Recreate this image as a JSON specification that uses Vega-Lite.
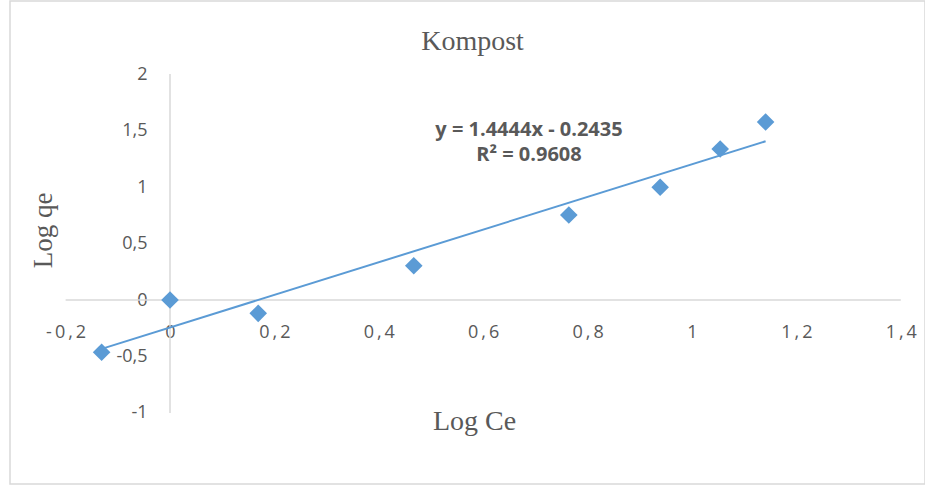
{
  "$schema": "https://vega.github.io/schema/vega-lite/v6.json",
  "autosize": {"type": "none"},
  "width": 915,
  "height": 483,
  "padding": {"left": 10, "top": 1, "right": 0, "bottom": 3},
  "background": "white",
  "config": {
    "view": {"stroke": "#D9D9D9", "strokeWidth": 1.5},
    "font": "Open Sans"
  },
  "title": {
    "text": "Kompost",
    "font": "Liberation Serif",
    "fontSize": 28,
    "fontWeight": "normal",
    "color": "#595959",
    "anchor": "middle",
    "baseline": "alphabetic",
    "offset": -77,
    "dx": 5
  },
  "datasets": {
    "points": [
      {"x": -0.131, "y": -0.463},
      {"x": 0.0, "y": 0.0},
      {"x": 0.169, "y": -0.118},
      {"x": 0.467, "y": 0.303},
      {"x": 0.764, "y": 0.752},
      {"x": 0.939, "y": 0.998},
      {"x": 1.054, "y": 1.336},
      {"x": 1.141, "y": 1.575}
    ],
    "trend": [
      {"x": -0.131, "y": -0.4327},
      {"x": 1.141, "y": 1.4046}
    ],
    "axislines": [
      {"x": -0.2, "y": 0, "x2": 1.4, "y2": 0},
      {"x": 0, "y": -1, "x2": 0, "y2": 2}
    ],
    "equation": [
      {"x": 0.6877, "y": 1.504, "line1": "y = 1.4444x - 0.2435", "line2": "R² = 0.9608"}
    ]
  },
  "encoding": {
    "x": {
      "field": "x",
      "type": "quantitative",
      "scale": {"domain": [-0.30651, 1.44636], "nice": false, "zero": false},
      "axis": {
        "title": "Log Ce",
        "values": [-0.2, 0, 0.2, 0.4, 0.6, 0.8, 1, 1.2, 1.4],
        "offset": -184,
        "domain": false,
        "ticks": false,
        "tickSize": 0,
        "grid": false,
        "labelPadding": 32,
        "labelBaseline": "middle",
        "labelFont": "Open Sans",
        "labelFontSize": 18,
        "labelColor": "#595959",
        "labelFlush": false,
        "labelOverlap": false,
        "labelBound": false,
        "labelExpr": "join(split(replace('' + datum.value, '.', ','), ''), '\u2009')",
        "titleFont": "Liberation Serif",
        "titleFontSize": 28,
        "titleFontWeight": "normal",
        "titleColor": "#595959",
        "titleX": 464,
        "titleY": 129,
        "titleAlign": "center",
        "titleBaseline": "alphabetic"
      }
    },
    "y": {
      "field": "y",
      "type": "quantitative",
      "scale": {"domain": [-1.62832, 2.64602], "nice": false, "zero": false},
      "axis": {
        "title": "Log qe",
        "values": [-1, -0.5, 0, 0.5, 1, 1.5, 2],
        "offset": -160,
        "domain": false,
        "ticks": false,
        "tickSize": 0,
        "grid": false,
        "labelPadding": 23,
        "labelFont": "Open Sans",
        "labelFontSize": 18,
        "labelColor": "#595959",
        "labelFlush": false,
        "labelOverlap": false,
        "labelBound": false,
        "labelExpr": "replace('' + datum.value, '.', ',')",
        "titleFont": "Liberation Serif",
        "titleFontSize": 27,
        "titleFontWeight": "normal",
        "titleColor": "#595959",
        "titleX": -119,
        "titleY": 229,
        "titleAngle": -90,
        "titleAlign": "center",
        "titleBaseline": "alphabetic"
      }
    }
  },
  "layer": [
    {
      "data": {"name": "axislines"},
      "mark": {"type": "rule", "color": "#D9D9D9", "strokeWidth": 1.5},
      "encoding": {
        "x2": {"field": "x2"},
        "y2": {"field": "y2"}
      }
    },
    {
      "data": {"name": "points"},
      "mark": {"type": "point", "shape": "diamond", "filled": true, "size": 310, "color": "#5B9BD5", "opacity": 1}
    },
    {
      "data": {"name": "trend"},
      "mark": {"type": "line", "color": "#5B9BD5", "strokeWidth": 2}
    },
    {
      "data": {"name": "equation"},
      "transform": [{"calculate": "[datum.line1, datum.line2]", "as": "label"}],
      "mark": {
        "type": "text",
        "font": "Open Sans",
        "fontSize": 20,
        "fontWeight": "bold",
        "color": "#595959",
        "align": "center",
        "baseline": "middle",
        "lineHeight": 25
      },
      "encoding": {
        "text": {"field": "label"}
      }
    }
  ]
}
